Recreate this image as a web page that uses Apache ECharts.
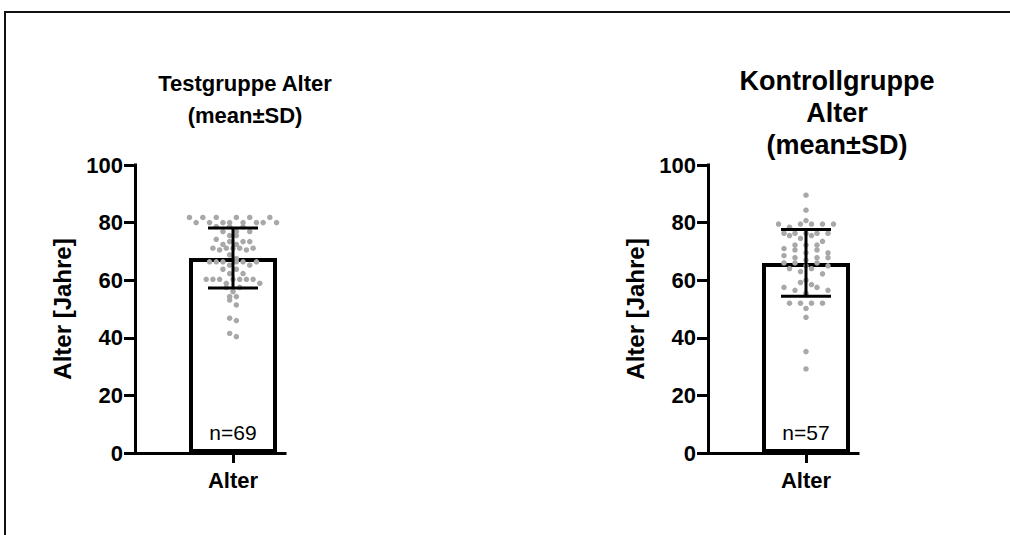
<!DOCTYPE html>
<html><head><meta charset="utf-8">
<script src="https://cdn.jsdelivr.net/npm/echarts@6/dist/echarts.min.js"></script>
<style>html,body{margin:0;padding:0;background:#fff;overflow:hidden}#c{width:1010px;height:535px}</style>
</head><body><div id="c"></div>
<script>
// ---- data ----
const panelTitles = ['Testgruppe Alter\n(mean±SD)', 'Kontrollgruppe\nAlter\n(mean±SD)'];
const categories = ['Alter'];
const yAxisName = 'Alter [Jahre]';
const yTicks = [0, 20, 40, 60, 80, 100];
const means = [67.7, 66.0];
const sds = [10.45, 11.6];
const nCounts = [69, 57];
const testValues = [
  81.8, 81.8, 81.8, 81.8, 81.8, 81.8,
  80.0, 80.0, 80.0, 80.0, 80.0, 80.0, 80.0, 80.0,
  78.6, 78.6, 78.6, 76.9, 76.9, 76.9, 75.5, 75.5, 74.2,
  73.4, 73.4, 73.4, 72.4, 72.4,
  71.1, 71.1, 71.1, 71.1, 71.1, 70.5, 70.5, 68.8, 67.5,
  66.4, 66.4, 66.4, 66.4, 66.4, 66.4, 65.2, 65.2, 63.8, 63.8, 62.3, 62.3,
  60.3, 60.3, 60.3, 60.3, 60.3, 60.3, 60.3, 58.9, 58.9, 57.5, 57.5, 56.0,
  54.3, 54.3, 53.1, 51.4, 46.8, 46.0, 41.5, 40.4
];
const controlValues = [
  89.5, 84.3, 80.7, 79.5, 79.5, 79.5, 79.5, 79.5, 78.4,
  76.3, 76.3, 76.3, 76.3, 76.3, 75.5, 75.5, 74.5, 73.5,
  72.2, 72.2, 72.2, 71.0, 70.5, 70.5, 69.5, 69.5, 68.5,
  67.8, 67.8, 67.8, 67.0, 66.0, 66.0, 66.0, 65.0, 65.0, 64.0, 64.0, 63.0, 62.2,
  60.0, 59.2, 58.5, 57.5, 57.5, 56.5, 56.5, 55.5, 55.0,
  52.0, 52.0, 52.0, 52.0, 50.2, 47.1, 35.2, 29.2
];
const panelValues = [testValues, controlValues];

// ---- layout ----
const gridLefts = [135, 708];
const gridTop = 165, gridH = 288, gridW = 150;
const barOffset = 98;
const dotStep = [6.7, 11];
const dotRow = [7.5, 6.5];
const pxPerUnit = gridH / (yTicks[yTicks.length - 1] - yTicks[0]);
const FONT = 'Arial, "Liberation Sans", sans-serif';

function swarm(values, rowPx, stepPx) {
  const rows = {};
  const order = values.map((v, i) => i).sort((a, b) => values[b] - values[a]);
  order.forEach(i => {
    const b = Math.round(values[i] * pxPerUnit / rowPx);
    (rows[b] = rows[b] || []).push(i);
  });
  const xs = new Array(values.length);
  Object.keys(rows).forEach(k => {
    const list = rows[k];
    const n = list.length;
    const keys = list.map((i, j) => ({ i, f: (j * 0.6180339887) % 1 }));
    keys.sort((a, b) => a.f - b.f);
    keys.forEach((o, s) => { xs[o.i] = (s - (n - 1) / 2) * stepPx; });
  });
  return values.map((v, i) => [xs[i], v]);
}

const grids = [], xAxes = [], yAxes = [], series = [];
[0, 1].forEach(p => {
  grids.push({ left: gridLefts[p], top: gridTop, width: gridW, height: gridH, containLabel: false });
  xAxes.push({
    gridIndex: p, type: 'value', min: -barOffset, max: gridW - barOffset,
    axisLine: { show: true, onZero: false, lineStyle: { color: '#000', width: 3, cap: 'square' } },
    axisTick: { show: true, customValues: [0], length: 10, lineStyle: { color: '#000', width: 3 } },
    axisLabel: { show: true, customValues: [0], formatter: () => categories[0], color: '#000', fontSize: 22, fontWeight: 'bold', fontFamily: FONT, margin: 16 },
    splitLine: { show: false }
  });
  yAxes.push({
    gridIndex: p, type: 'value', min: yTicks[0], max: yTicks[yTicks.length - 1], interval: yTicks[1] - yTicks[0],
    axisLine: { show: true, onZero: false, lineStyle: { color: '#000', width: 3, cap: 'square' } },
    axisTick: { show: true, length: 11, lineStyle: { color: '#000', width: 3 } },
    axisLabel: { color: '#000', fontSize: 22, fontWeight: 'bold', fontFamily: FONT, margin: 12 },
    splitLine: { show: false },
    name: yAxisName, nameLocation: 'middle', nameGap: 61,
    nameTextStyle: { color: '#000', fontSize: 24, fontWeight: 'bold', fontFamily: FONT }
  });
  series.push({
    type: 'bar', xAxisIndex: p, yAxisIndex: p, barWidth: 88, z: 1, silent: true,
    data: [[0, means[p]]],
    itemStyle: { color: '#fff', borderColor: '#000', borderWidth: 4 },
    label: { show: true, position: 'insideBottom', distance: 10, formatter: 'n=' + nCounts[p], color: '#000', fontSize: 21, fontFamily: FONT }
  });
  series.push({
    type: 'scatter', xAxisIndex: p, yAxisIndex: p, z: 2, silent: true,
    symbolSize: 5.5, itemStyle: { color: '#a8a8a8', opacity: 1 },
    data: swarm(panelValues[p], dotRow[p], dotStep[p])
  });
  series.push({
    type: 'custom', xAxisIndex: p, yAxisIndex: p, z: 3, silent: true,
    data: [[0, means[p], sds[p]]],
    encode: { x: 0, y: 1 },
    renderItem: (params, api) => {
      const x = api.value(0), m = api.value(1), s = api.value(2);
      const t = api.coord([x, m + s]), b = api.coord([x, m - s]);
      const h = 25, st = { stroke: '#000', lineWidth: 3 };
      return { type: 'group', children: [
        { type: 'line', shape: { x1: t[0], y1: t[1], x2: b[0], y2: b[1] }, style: st },
        { type: 'line', shape: { x1: t[0] - h, y1: t[1], x2: t[0] + h, y2: t[1] }, style: st },
        { type: 'line', shape: { x1: b[0] - h, y1: b[1], x2: b[0] + h, y2: b[1] }, style: st }
      ] };
    }
  });
});

const chart = echarts.init(document.getElementById('c'), null, { renderer: 'svg' });
chart.setOption({
  backgroundColor: '#fff',
  animation: false,
  grid: grids, xAxis: xAxes, yAxis: yAxes, series: series,
  graphic: [
    { type: 'rect', shape: { x: 4, y: 11, width: 1006, height: 2 }, style: { fill: '#111', stroke: 'none' }, silent: true },
    { type: 'rect', shape: { x: 4, y: 11, width: 2, height: 524 }, style: { fill: '#111', stroke: 'none' }, silent: true },
    { type: 'text', x: 245, y: 67, style: { text: panelTitles[0], textAlign: 'center', textVerticalAlign: 'top', font: 'bold 22px ' + FONT, lineHeight: 32, fill: '#000' } },
    { type: 'text', x: 837, y: 65, style: { text: panelTitles[1], textAlign: 'center', textVerticalAlign: 'top', font: 'bold 27px ' + FONT, lineHeight: 32, fill: '#000' } }
  ]
});
</script></body></html>
